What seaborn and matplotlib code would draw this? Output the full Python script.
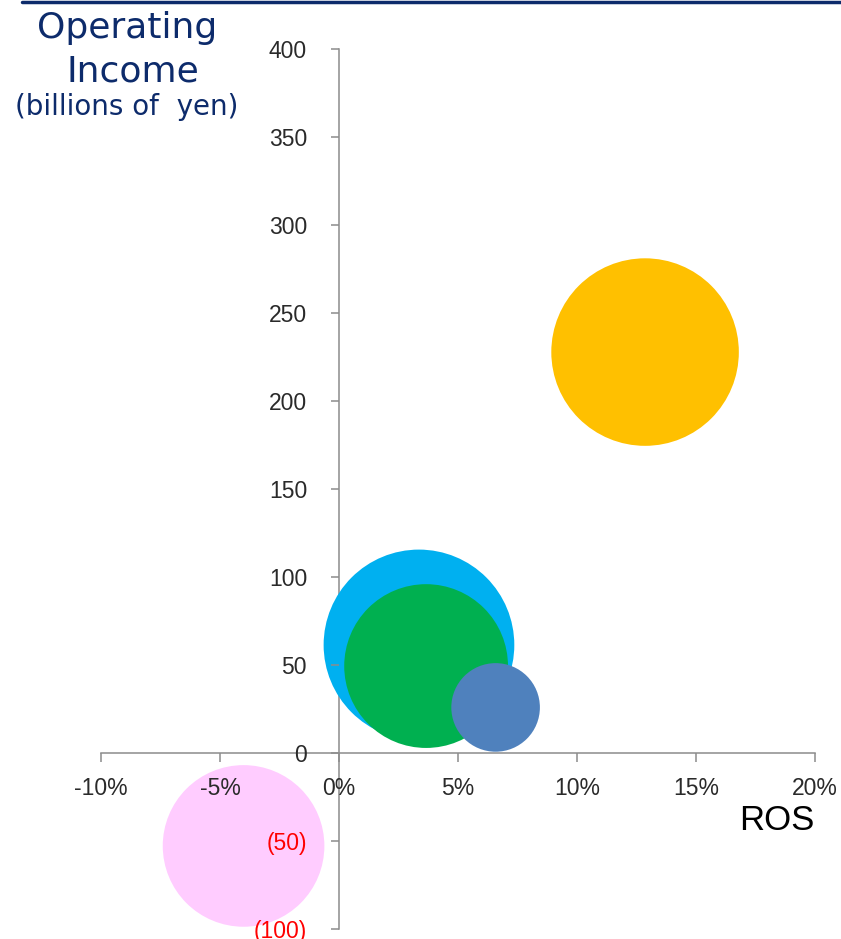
import matplotlib
matplotlib.use("Agg")
import matplotlib.pyplot as plt
import seaborn as sns
import pandas as pd
from matplotlib.lines import Line2D

# ---- data ----
segments = ["Segment A", "Segment B", "Segment C", "Segment D", "Segment E"]
ros_pct = [3.36, 3.66, 6.58, 12.86, -4.01]          # ROS (%)
op_income = [61.4, 49.4, 25.9, 227.8, -52.8]         # billions of yen
revenue = [1830, 1350, 395, 1770, 1315]              # bubble size (area)
colors = ["#00B0F0", "#00B050", "#4F81BD", "#FFC000", "#FFCCFF"]

x_ticks = [-10, -5, 0, 5, 10, 15, 20]
x_labels = ["-10%", "-5%", "0%", "5%", "10%", "15%", "20%"]
y_ticks = [-100, -50, 0, 50, 100, 150, 200, 250, 300, 350, 400]
y_labels = ["(100)", "(50)", "0", "50", "100", "150", "200", "250", "300", "350", "400"]

df = pd.DataFrame({"segment": segments, "ros": ros_pct, "oi": op_income, "rev": revenue})

sns.set_style("white")
plt.rcParams["font.family"] = ["Liberation Sans", "DejaVu Sans"]

fig = plt.figure(figsize=(8.41, 9.39), dpi=100)
ax = fig.add_axes([101 / 841, 10 / 939, 714 / 841, 880 / 939])

k = 10.3  # points^2 per unit of revenue
sns.scatterplot(data=df, x="ros", y="oi", hue="segment", palette=colors,
                size="rev", size_norm=(0, 2000), sizes=(0, k * 2000),
                linewidth=0, alpha=1, legend=False, ax=ax, clip_on=False, zorder=2)

ax.set_xlim(-10, 20)
ax.set_ylim(-100, 400)
ax.set_xlabel("")
ax.set_ylabel("")

for s in ["top", "right"]:
    ax.spines[s].set_visible(False)
ax.spines["left"].set_position(("data", 0))
ax.spines["bottom"].set_position(("data", 0))
for s in ["left", "bottom"]:
    ax.spines[s].set_color("#8C8C8C")
    ax.spines[s].set_linewidth(1.1)
    ax.spines[s].set_zorder(1)
ax.xaxis.set_zorder(4)
ax.yaxis.set_zorder(4)

ax.set_xticks(x_ticks, x_labels)
ax.set_yticks(y_ticks, y_labels)
ax.tick_params(axis="x", bottom=True, direction="out", length=6.5, width=1.1,
               color="#8C8C8C", labelsize=16.5, pad=10.5, labelcolor="#2A2A2A")
ax.tick_params(axis="y", left=True, direction="out", length=6, width=1.1,
               color="#8C8C8C", labelsize=16.5, pad=17, labelcolor="#2A2A2A")
for lab, v in zip(ax.get_yticklabels(), y_ticks):
    if v < 0:
        lab.set_color("#FF0000")

# titles
navy = "#0D2B6B"
fig.text(127 / 841, 1 - 28 / 939, "Operating", ha="center", va="center",
         fontsize=26, color=navy, family="DejaVu Sans")
fig.text(133 / 841, 1 - 71 / 939, "Income", ha="center", va="center",
         fontsize=26, color=navy, family="DejaVu Sans")
fig.text(127 / 841, 1 - 107 / 939, "(billions of  yen)", ha="center", va="center",
         fontsize=20, color=navy, family="DejaVu Sans")
fig.text(815 / 841, 1 - 821 / 939, "ROS", ha="right", va="center",
         fontsize=25, color="black")

# top rule
fig.add_artist(Line2D([22 / 841, 1], [1 - 1.5 / 939, 1 - 1.5 / 939],
                      transform=fig.transFigure, color=navy, linewidth=2.5))

fig.savefig("out.png", dpi=100)
